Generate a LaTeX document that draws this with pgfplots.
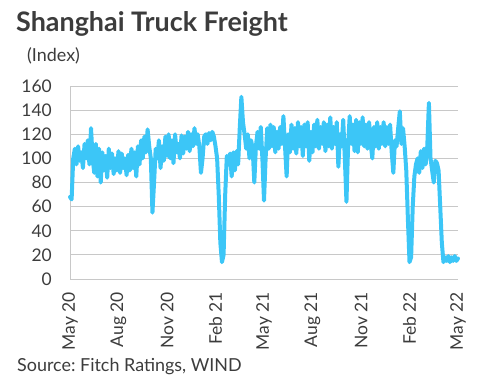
\documentclass[border=0pt]{standalone}
\usepackage{pgfplots}
\pgfplotsset{compat=1.18}
\usepackage{fontspec}
\setmainfont{Lato}
\frenchspacing
\definecolor{linec}{RGB}{60,198,247}
\definecolor{gridc}{RGB}{200,200,200}
\definecolor{txt}{RGB}{60,60,60}
\begin{document}
\begin{tikzpicture}
\path[use as bounding box] (0bp,0bp) rectangle (490bp,-392bp);
\node[anchor=base west, font=\bfseries\fontsize{27}{30}\selectfont, text=txt, inner sep=0] at (16bp,-31bp) {Shanghai Truck Freight};
\node[anchor=base west, font=\fontsize{18}{21}\selectfont, text=txt, inner sep=0] at (27bp,-61bp) {(Index)};
\node[anchor=base west, font=\fontsize{18}{21}\selectfont, text=txt, inner sep=0] at (17bp,-371bp) {Source: Fitch Ratings, WIND};
\begin{axis}[
  at={(70bp,-279bp)}, anchor=south west,
  scale only axis, width=388bp, height=193bp,
  xmin=0, xmax=24, ymin=0, ymax=160,
  ytick={0,20,...,160},
  xtick={0,3,...,24},
  xticklabels={May 20,Aug 20,Nov 20,Feb 21,May 21,Aug 21,Nov 21,Feb 22,May 22},
  xticklabel style={rotate=90, anchor=east, font=\fontsize{17.5}{20}\selectfont, text=txt, inner xsep=13bp, inner ysep=0pt},
  yticklabel style={anchor=east, font=\fontsize{17.5}{20}\selectfont, text=txt, inner xsep=18bp, inner ysep=0pt},
  /pgf/number format/assume math mode=true,
  major tick length=0pt,
  axis lines*=left,
  axis line style={gridc, line width=0.8pt},
  ymajorgrids,
  grid style={gridc, line width=0.8pt},
  clip=false,
]
\addplot[linec, line width=4bp, line join=round, line cap=round, no marks] coordinates {
(0.0,68) (0.1,66) (0.2,100) (0.3,108) (0.4,95) (0.5,110) (0.6,98) (0.7,105) (0.8,92) (0.9,112)
(1.0,100) (1.1,115) (1.2,95) (1.3,125) (1.4,100) (1.5,88) (1.6,112) (1.7,85) (1.8,108) (1.9,80)
(2.0,105) (2.1,90) (2.2,102) (2.3,84) (2.4,108) (2.5,92) (2.6,104) (2.7,87) (2.8,100) (2.9,90)
(3.0,106) (3.1,88) (3.2,104) (3.3,92) (3.4,100) (3.5,86) (3.6,103) (3.7,90) (3.8,108) (3.9,92)
(4.0,105) (4.1,85) (4.2,110) (4.3,95) (4.4,115) (4.5,100) (4.6,118) (4.7,105) (4.8,124) (4.9,110)
(5.0,100) (5.1,55) (5.2,80) (5.3,108) (5.4,100) (5.5,115) (5.6,92) (5.7,110) (5.8,98) (5.9,118)
(6.0,102) (6.1,120) (6.2,100) (6.3,115) (6.4,96) (6.5,120) (6.6,105) (6.7,112) (6.8,100) (6.9,119)
(7.0,104) (7.1,118) (7.2,108) (7.3,122) (7.4,106) (7.5,120) (7.6,110) (7.7,125) (7.8,112) (7.9,120)
(8.0,110) (8.1,88) (8.2,100) (8.3,118) (8.4,120) (8.5,112) (8.6,121) (8.7,115) (8.8,122) (8.9,118)
(9.0,110) (9.1,100) (9.2,70) (9.3,30) (9.4,14) (9.5,20) (9.6,70) (9.7,102) (9.8,95) (9.9,104)
(10.0,85) (10.1,105) (10.2,90) (10.3,106) (10.4,95) (10.5,125) (10.6,151) (10.7,130) (10.8,120) (10.9,108)
(11.0,120) (11.1,100) (11.2,115) (11.3,108) (11.4,80) (11.5,110) (11.6,122) (11.7,108) (11.8,126) (11.9,100)
(12.0,65) (12.1,100) (12.2,125) (12.3,108) (12.4,128) (12.5,110) (12.6,126) (12.7,105) (12.8,122) (12.9,108)
(13.0,126) (13.1,112) (13.2,135) (13.3,110) (13.4,85) (13.5,120) (13.6,105) (13.7,128) (13.8,108) (13.9,125)
(14.0,104) (14.1,130) (14.2,110) (14.3,126) (14.4,102) (14.5,128) (14.6,110) (14.7,130) (14.8,98) (14.9,122)
(15.0,105) (15.1,128) (15.2,110) (15.3,132) (15.4,108) (15.5,126) (15.6,112) (15.7,130) (15.8,106) (15.9,128)
(16.0,110) (16.1,134) (16.2,108) (16.3,126) (16.4,112) (16.5,130) (16.6,93) (16.7,120) (16.8,110) (16.9,132)
(17.0,100) (17.1,64) (17.2,110) (17.3,135) (17.4,112) (17.5,128) (17.6,106) (17.7,132) (17.8,105) (17.9,130)
(18.0,112) (18.1,134) (18.2,110) (18.3,128) (18.4,108) (18.5,130) (18.6,112) (18.7,100) (18.8,126) (18.9,110)
(19.0,130) (19.1,108) (19.2,126) (19.3,112) (19.4,130) (19.5,110) (19.6,126) (19.7,112) (19.8,128) (19.9,105)
(20.0,88) (20.1,115) (20.2,110) (20.3,125) (20.4,139) (20.5,112) (20.6,125) (20.7,110) (20.8,90) (20.9,50)
(21.0,14) (21.1,18) (21.2,60) (21.3,85) (21.4,95) (21.5,100) (21.6,88) (21.7,106) (21.8,92) (21.9,108)
(22.0,95) (22.1,110) (22.2,146) (22.3,100) (22.4,90) (22.5,80) (22.6,98) (22.7,96) (22.8,90) (22.9,60)
(23.0,30) (23.1,14) (23.2,18) (23.3,15) (23.4,19) (23.5,14) (23.6,18) (23.7,15) (23.8,19) (23.9,15)
(24.0,17)
};
\end{axis}
\end{tikzpicture}
\end{document}
